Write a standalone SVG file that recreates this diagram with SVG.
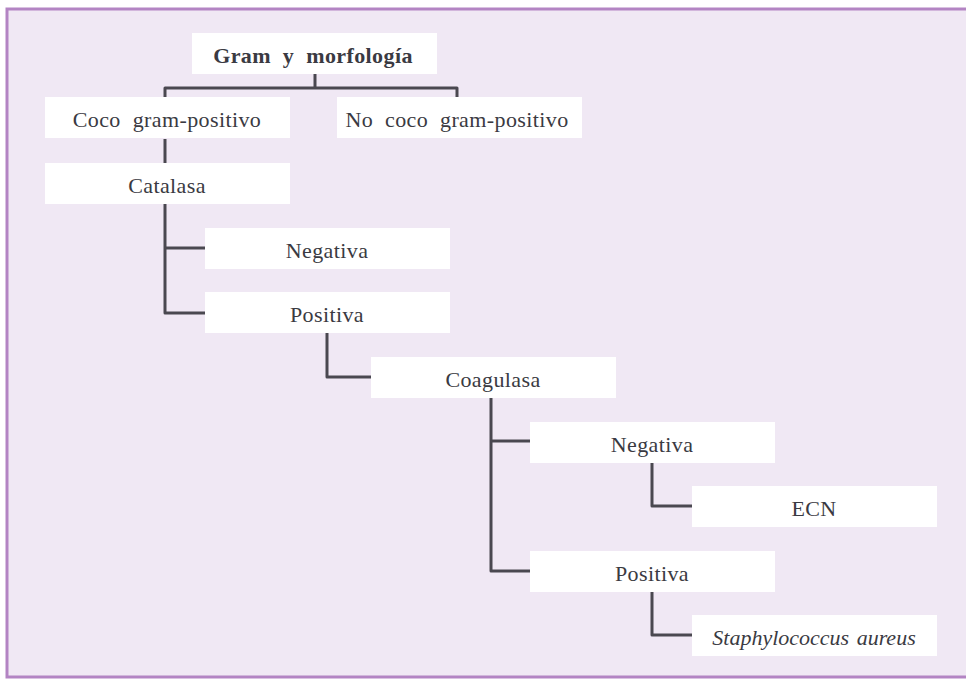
<svg xmlns="http://www.w3.org/2000/svg" width="966" height="680" viewBox="0 0 966 680">
<style>
.bg{fill:#f0e8f4;stroke:#b384c3;stroke-width:3}
.box{fill:#ffffff}
.t{font-family:'Liberation Serif','DejaVu Serif',serif;font-size:22px;fill:#3a3a42;text-anchor:middle;word-spacing:6px;letter-spacing:0.4px}
.it{font-style:italic;word-spacing:2px;letter-spacing:0px}
.c{fill:none;stroke:#4a4850;stroke-width:3;stroke-linejoin:round;stroke-linecap:butt}
</style>
<rect class="bg" x="7" y="9" width="1000" height="668"/>
<g id="connectors">
<path class="c" d="M315 74 V88 M165 98 V88 H457 V98"/>
<path class="c" d="M165 139 V163"/>
<path class="c" d="M165 204 V313 H205 M165 248 H205"/>
<path class="c" d="M327 333 V377 H371"/>
<path class="c" d="M491 398 V571 H530 M491 441 H530"/>
<path class="c" d="M652 463 V506 H692"/>
<path class="c" d="M652 592 V635 H692"/>
</g>
<g id="n-gram"><rect class="box" x="192" y="33" width="245" height="41"/><text class="t" x="313" y="63" font-weight="bold">Gram y morfología</text></g>
<g id="n-coco"><rect class="box" x="45" y="97" width="245" height="41"/><text class="t" x="167" y="127">Coco gram-positivo</text></g>
<g id="n-nococo"><rect class="box" x="337" y="97" width="245" height="41"/><text class="t" x="457" y="127">No coco gram-positivo</text></g>
<g id="n-catalasa"><rect class="box" x="45" y="163" width="245" height="41"/><text class="t" x="167" y="193">Catalasa</text></g>
<g id="n-cat-neg"><rect class="box" x="205" y="228" width="245" height="41"/><text class="t" x="327" y="258">Negativa</text></g>
<g id="n-cat-pos"><rect class="box" x="205" y="292" width="245" height="41"/><text class="t" x="327" y="322">Positiva</text></g>
<g id="n-coagulasa"><rect class="box" x="371" y="357" width="245" height="41"/><text class="t" x="493" y="387">Coagulasa</text></g>
<g id="n-coa-neg"><rect class="box" x="530" y="422" width="245" height="41"/><text class="t" x="652" y="452">Negativa</text></g>
<g id="n-ecn"><rect class="box" x="692" y="486" width="245" height="41"/><text class="t" x="814" y="516">ECN</text></g>
<g id="n-coa-pos"><rect class="box" x="530" y="551" width="245" height="41"/><text class="t" x="652" y="581">Positiva</text></g>
<g id="n-sa"><rect class="box" x="692" y="615" width="245" height="41"/><text class="t it" x="814" y="645">Staphylococcus aureus</text></g>
</svg>
